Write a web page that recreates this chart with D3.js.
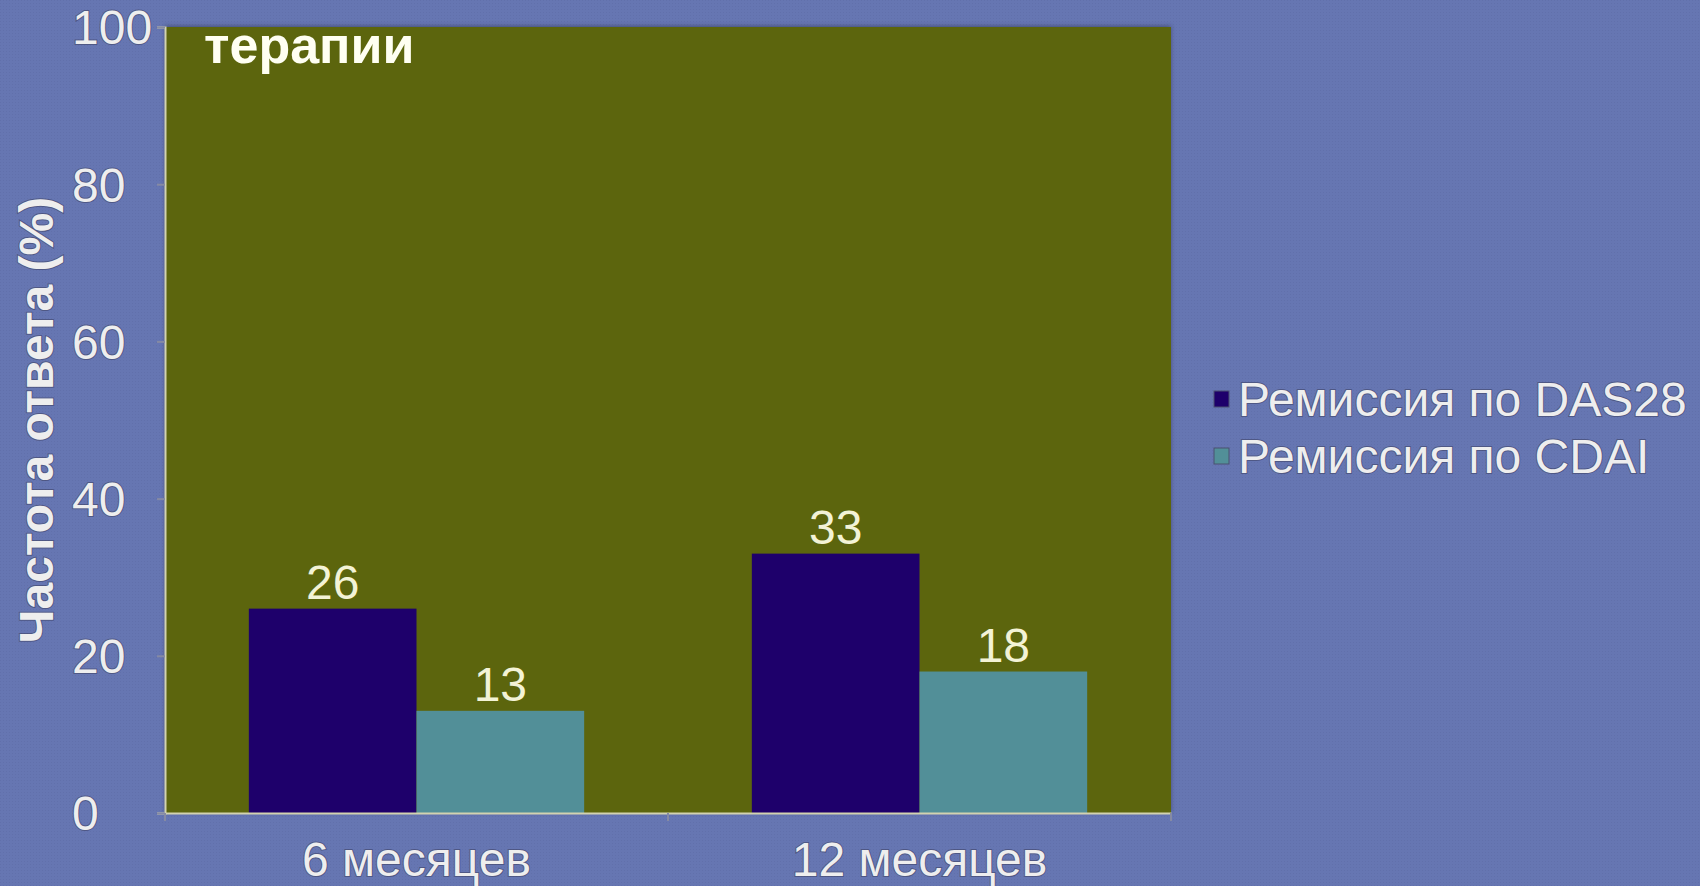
<!DOCTYPE html>
<html>
<head>
<meta charset="utf-8">
<script src="https://cdn.jsdelivr.net/npm/d3@7"></script>
<style>
  html, body { margin: 0; padding: 0; background: #6676b2; overflow: hidden; }
  svg { display: block; }
  .lbl { font-family: 'Liberation Sans', Arial, sans-serif; }
  .soft { fill: #eeeeee; stroke: rgba(60, 62, 95, 0.55); stroke-width: 2px; paint-order: stroke; }
</style>
</head>
<body>
<svg id="chart"></svg>
<script>
'use strict'

// data
const categories = ['6 месяцев', '12 месяцев']
const seriesNames = ['Ремиссия по DAS28', 'Ремиссия по CDAI']
const das28 = [26, 33]
const cdai = [13, 18]
const yTicks = [0, 20, 40, 60, 80, 100]
const seriesColors = ['#1e006b', '#528f98']
const yTitle = 'Частота ответа (%)'
const noteText = 'терапии'

const width = 1700
const height = 886
const plot = { left: 165, right: 1171, top: 27, bottom: 813 }

const svg = d3.select('#chart')
  .attr('width', width)
  .attr('height', height)

// dotted slide background
const defs = svg.append('defs')
const pat = defs.append('pattern')
  .attr('id', 'dots')
  .attr('width', 3)
  .attr('height', 3)
  .attr('patternUnits', 'userSpaceOnUse')
pat.append('rect').attr('width', 3).attr('height', 3).attr('fill', '#6676b2')
pat.append('rect').attr('width', 1).attr('height', 1).attr('fill', '#6170ab')

const shadow = defs.append('filter').attr('id', 'shadow')
  .attr('x', '-5%').attr('y', '-5%').attr('width', '110%').attr('height', '110%')
shadow.append('feDropShadow')
  .attr('dx', 0).attr('dy', -1)
  .attr('stdDeviation', 2)
  .attr('flood-color', '#2a3050')
  .attr('flood-opacity', 0.6)

svg.append('rect')
  .attr('width', width)
  .attr('height', height)
  .attr('fill', 'url(#dots)')

// scales
const x0 = d3.scaleBand()
  .domain(categories)
  .range([plot.left, plot.right])
  .padding(0)

const x1 = d3.scaleBand()
  .domain(seriesNames)
  .range([0, x0.bandwidth()])
  .paddingInner(0)
  .paddingOuter(0.5)

const y = d3.scaleLinear()
  .domain([0, 100])
  .range([plot.bottom, plot.top])

const color = d3.scaleOrdinal().domain(seriesNames).range(seriesColors)

// plot area
svg.append('rect')
  .attr('x', plot.left)
  .attr('y', plot.top)
  .attr('width', plot.right - plot.left)
  .attr('height', plot.bottom - plot.top)
  .attr('fill', '#5c650e')
  .attr('filter', 'url(#shadow)')

// bars
const rows = categories.map((c, i) => ({
  category: c,
  values: [
    { name: seriesNames[0], value: das28[i] },
    { name: seriesNames[1], value: cdai[i] }
  ]
}))

const group = svg.selectAll('g.group')
  .data(rows)
  .enter().append('g')
  .attr('class', 'group')
  .attr('transform', d => `translate(${x0(d.category)},0)`)

group.selectAll('rect')
  .data(d => d.values)
  .enter().append('rect')
  .attr('x', d => x1(d.name))
  .attr('y', d => y(d.value))
  .attr('width', x1.bandwidth())
  .attr('height', d => y(0) - y(d.value))
  .attr('fill', d => color(d.name))

group.selectAll('text')
  .data(d => d.values)
  .enter().append('text')
  .attr('class', 'lbl')
  .attr('x', d => x1(d.name) + x1.bandwidth() / 2)
  .attr('y', d => y(d.value) - 10)
  .attr('text-anchor', 'middle')
  .attr('font-size', 48)
  .attr('fill', '#f3f3d6')
  .text(d => d.value)

// y axis
const yAxis = svg.append('g')
  .attr('transform', `translate(${plot.left},0)`)
  .call(d3.axisLeft(y).tickValues(yTicks).tickSize(8).tickPadding(0))

yAxis.select('.domain').attr('stroke', '#d2d2b0').attr('stroke-width', 2)
yAxis.selectAll('.tick line').attr('stroke', '#858aa4').attr('stroke-width', 2)
yAxis.selectAll('.tick text')
  .attr('class', 'lbl soft')
  .attr('x', 72 - plot.left)
  .attr('dy', '0.35em')
  .attr('text-anchor', 'start')
  .attr('font-size', 48)

// x axis: line, ticks at band edges, centred labels
const xAxis = svg.append('g')
  .attr('transform', `translate(0,${plot.bottom})`)
  .call(d3.axisBottom(x0).tickSize(0).tickPadding(0))

xAxis.select('.domain').attr('stroke', '#d2d2b0').attr('stroke-width', 2)
xAxis.selectAll('.tick text')
  .attr('class', 'lbl soft')
  .attr('y', 63)
  .attr('dy', 0)
  .attr('font-size', 48)

const edges = d3.range(categories.length + 1).map(i => plot.left + i * x0.step())
xAxis.selectAll('line.edge')
  .data(edges)
  .enter().append('line')
  .attr('class', 'edge')
  .attr('x1', d => d)
  .attr('x2', d => d)
  .attr('y1', 0)
  .attr('y2', 8)
  .attr('stroke', '#858aa4')
  .attr('stroke-width', 2)

// y title
svg.append('text')
  .attr('class', 'lbl soft')
  .attr('transform', 'translate(53,420) rotate(-90)')
  .attr('text-anchor', 'middle')
  .attr('font-size', 48)
  .attr('font-weight', 'bold')
  .text(yTitle)

// leftover title line on the slide
svg.append('text')
  .attr('class', 'lbl')
  .attr('x', 204)
  .attr('y', 63)
  .attr('font-size', 52)
  .attr('font-weight', 'bold')
  .attr('fill', '#fffff2')
  .text(noteText)

// legend
const legend = svg.append('g')
  .attr('transform', 'translate(1214,416)')

const item = legend.selectAll('g')
  .data(seriesNames)
  .enter().append('g')
  .attr('transform', (d, i) => `translate(0,${i * 57})`)

item.append('rect')
  .attr('x', 0)
  .attr('y', -25)
  .attr('width', 15)
  .attr('height', 16)
  .attr('fill', d => color(d))
  .attr('stroke', '#4a5070')
  .attr('stroke-width', 1)

item.append('text')
  .attr('class', 'lbl soft')
  .attr('x', 24)
  .attr('y', 0)
  .attr('font-size', 48)
  .text(d => d)
</script>
</body>
</html>
